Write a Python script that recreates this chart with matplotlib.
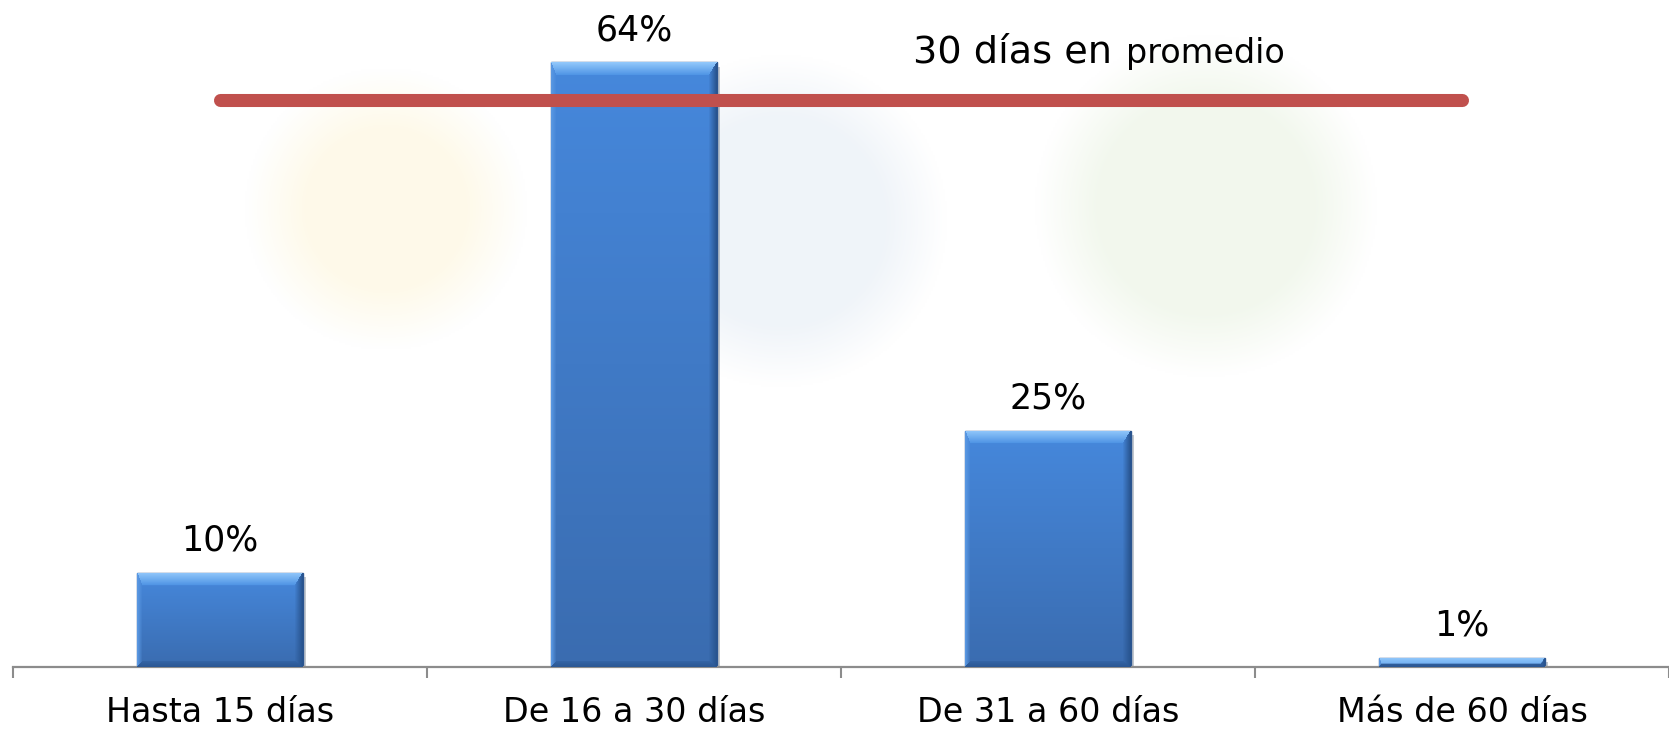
import numpy as np
import matplotlib
matplotlib.use('Agg')
import matplotlib.pyplot as plt
import matplotlib.patheffects as pe

categories = ['Hasta 15 días', 'De 16 a 30 días', 'De 31 a 60 días', 'Más de 60 días']
values = [10, 64, 25, 1]
avg_label = '30 días en'
avg_label_small = 'promedio'
avg_span = [0, 3]
avg_level = 60


def hex2rgb(h):
    return np.array([int(h[k:k + 2], 16) for k in (1, 3, 5)]) / 255.0


def bevel_image(w, h):
    # pixel image of a bevelled bar: lighter top edge, darker sides/bottom
    i = np.arange(h)[:, None] * np.ones((1, w))
    j = np.ones((h, 1)) * np.arange(w)[None, :]
    t = i / max(h - 1, 1)
    face = hex2rgb('#4688dc') * (1 - t[..., None]) + hex2rgb('#3a6cb0') * t[..., None]
    img = face.copy()
    d = np.stack([i / 13.0, (h - 1 - i) / 6.0, j / 5.0, (w - 1 - j) / 8.0])
    k = np.argmin(d, axis=0)
    m = np.min(d, axis=0) < 1
    s = np.clip(np.min(d, axis=0), 0, 1)[..., None]
    top = hex2rgb('#92c8fb') * (1 - s) + hex2rgb('#4c92e4') * s
    bot = hex2rgb('#2c5894') * (1 - s) + hex2rgb('#3566a8') * s
    left = hex2rgb('#5a98e2') * (1 - s) + face * s
    right = hex2rgb('#28548f') * (1 - s) + face * s
    for idx, col in enumerate([top, bot, left, right]):
        sel = m & (k == idx)
        img[sel] = col[sel]
    return img


fig = plt.figure(figsize=(16.69, 7.30), dpi=100)
fig.patch.set_facecolor('white')

# very faint, soft watermark blobs behind the chart
bg = fig.add_axes([0, 0, 1, 1], zorder=0)
bg.axis('off')
H, W = 365, 835
yy, xx = np.mgrid[0:H, 0:W] * 2.0
wm = np.ones((H, W, 3))
for cx, cy, r, c in [(385, 208, 140, '#fdf3cf'), (780, 220, 165, '#dde7f2'),
                     (1205, 205, 170, '#e3efd9')]:
    dist = np.hypot(xx - cx, yy - cy)
    a = np.clip((r - dist) / 60.0, 0, 1)[..., None] * 0.45
    wm = wm * (1 - a) + hex2rgb(c) * a
bg.imshow(wm, extent=(0, 1669, 730, 0), aspect='auto', interpolation='bilinear')
bg.set_xlim(0, 1669)
bg.set_ylim(730, 0)

ax = fig.add_axes([13 / 1669, 63 / 730, 1656 / 1669, 667 / 730], zorder=1)
ax.set_facecolor('none')
ax.set_xlim(-0.5, 3.5)
ax.set_ylim(0, 70.6)

x = np.arange(len(categories))
bars = ax.bar(x, values, width=0.40, color='#4080d0', edgecolor='#2b5590', linewidth=1.0, zorder=2)
for b in bars:
    b.set_path_effects([pe.SimplePatchShadow(offset=(2, -3), alpha=0.25), pe.Normal()])
    x0, y0 = b.get_x(), b.get_y()
    x1, y1 = x0 + b.get_width(), y0 + b.get_height()
    p0 = ax.transData.transform((x0, y0))
    p1 = ax.transData.transform((x1, y1))
    w = max(int(round(p1[0] - p0[0])), 2)
    h = max(int(round(p1[1] - p0[1])), 2)
    im = ax.imshow(bevel_image(w, h), extent=(x0, x1, y0, y1), aspect='auto',
                   origin='upper', interpolation='bilinear', zorder=3)
    im.set_clip_path(b)

for xi, v in zip(x, values):
    ax.annotate(f'{v}%', (xi, v), xytext=(0, 16), textcoords='offset points',
                ha='center', va='baseline', fontsize=25, color='black', zorder=5)

ax.plot(avg_span, [avg_level, avg_level], color='#c0504d', linewidth=9.4,
        solid_capstyle='round', zorder=4)

t1 = ax.text(1.674, 64.0, avg_label, fontsize=27.5, ha='left', va='baseline', zorder=5)
ax.annotate(avg_label_small, xy=(1, 0), xycoords=t1, xytext=(10, 0), textcoords='offset points',
            ha='left', va='bottom', fontsize=24, zorder=5)

for s in ['top', 'right', 'left']:
    ax.spines[s].set_visible(False)
ax.spines['bottom'].set_color('#8c8c8c')
ax.spines['bottom'].set_linewidth(1.6)
ax.set_yticks([])
ax.set_xticks(x)
ax.set_xticklabels(categories, fontsize=24)
ax.tick_params(axis='x', which='major', length=0, pad=21)
ax.set_xticks(np.arange(len(categories) + 1) - 0.5, minor=True)
ax.tick_params(axis='x', which='minor', length=8, width=1.5, color='#8c8c8c')

fig.savefig('out.png', dpi=100)
